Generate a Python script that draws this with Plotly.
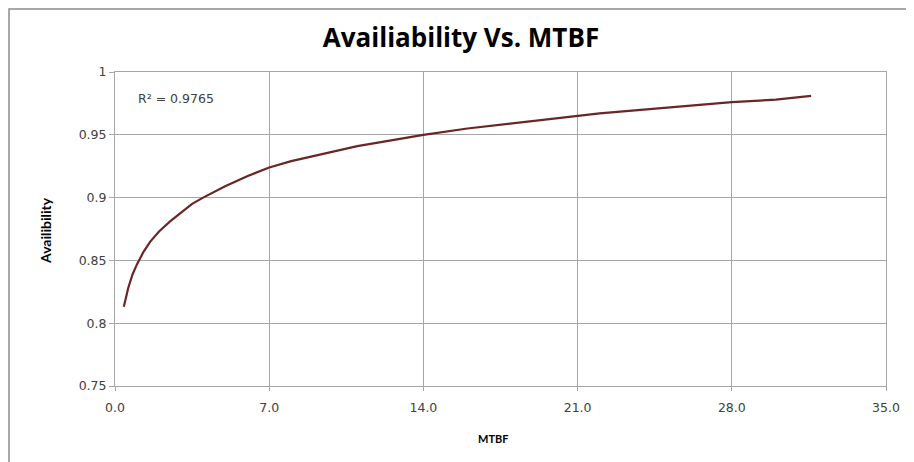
import plotly.graph_objects as go

# Values
mtbf = [0.4, 0.6, 0.8, 1.0, 1.3, 1.6, 2.0, 2.5, 3.0, 3.5, 4.0, 5.0, 6.0, 7.0,
        8.0, 9.0, 10.0, 11.0, 12.0, 13.0, 14.0, 16.0, 18.0, 20.0, 22.0, 24.0,
        26.0, 28.0, 30.0, 31.6]
availability = [0.813, 0.828, 0.839, 0.847, 0.857, 0.865, 0.873, 0.881, 0.888,
                0.895, 0.900, 0.909, 0.917, 0.924, 0.929, 0.933, 0.937, 0.941,
                0.944, 0.947, 0.950, 0.955, 0.959, 0.963, 0.967, 0.970, 0.973,
                0.976, 0.978, 0.981]
x_ticks = [0, 7, 14, 21, 28, 35]
y_ticks = [0.75, 0.8, 0.85, 0.9, 0.95, 1.0]
r2_text = "R\u00b2 = 0.9765"

# page has an 8px body margin; work in page pixels and compensate
OFF = 8
PAGE_W, PAGE_H = 914, 462
W, H = PAGE_W - OFF, PAGE_H - OFF
px_left, px_right, px_top, px_bottom = 115, 886, 72, 386   # plot area in page px
L = px_left - OFF
T = px_top - OFF
R = OFF + W - px_right
B = OFF + H - px_bottom
pw, ph = px_right - px_left, px_bottom - px_top


def paper_x(px):
    return (px - px_left) / pw


def paper_y(py):
    return (px_bottom - py) / ph


fig = go.Figure()
fig.add_trace(go.Scatter(
    x=mtbf, y=availability, mode="lines",
    line=dict(color="#6a2626", width=2.2),
    showlegend=False, hoverinfo="x+y"))

grid = "#a6a6a6"
tick_font = dict(family="DejaVu Sans", size=12.5, color="#404040")
fig.update_xaxes(
    range=[0, 35], tickvals=x_ticks, tickformat=".1f",
    showgrid=True, gridcolor=grid, gridwidth=1,
    showline=True, linecolor=grid, linewidth=1, mirror=True,
    ticks="outside", ticklen=4, tickcolor=grid, ticklabelstandoff=6,
    tickfont=tick_font, zeroline=False, fixedrange=True)
fig.update_yaxes(
    range=[0.75, 1.0], tickvals=y_ticks,
    showgrid=True, gridcolor=grid, gridwidth=1,
    showline=True, linecolor=grid, linewidth=1, mirror=True,
    ticks="outside", ticklen=5, tickcolor=grid,
    tickfont=tick_font, zeroline=False, fixedrange=True)

fig.add_annotation(x=0.95, y=0.979, xref="x", yref="y", text=r2_text,
                   showarrow=False, xanchor="left", yanchor="middle",
                   font=dict(family="DejaVu Sans", size=12.5, color="#404040"))
fig.add_annotation(x=paper_x(45), y=paper_y(231), xref="paper", yref="paper",
                   text="<b>Availibility</b>", textangle=-90, showarrow=False,
                   xanchor="center", yanchor="middle",
                   font=dict(family="Lato", size=14, color="#000000"))
fig.add_annotation(x=paper_x(493), y=paper_y(438), xref="paper", yref="paper",
                   text="<b>MTBF</b>", showarrow=False,
                   xanchor="center", yanchor="middle",
                   font=dict(family="Lato", size=11, color="#000000"))

# outer chart frame
fig.add_shape(type="rect", xref="paper", yref="paper",
              x0=paper_x(9), x1=paper_x(PAGE_W + 10),
              y0=paper_y(PAGE_H + 10), y1=paper_y(9),
              line=dict(color="#8c8c8c", width=1.5), layer="below")

fig.update_layout(
    width=W, height=H,
    margin=dict(l=L, r=R, t=T, b=B),
    paper_bgcolor="white", plot_bgcolor="white",
    title=dict(text="<b>Availiability Vs. MTBF</b>",
               x=(461 - OFF) / W, y=1 - (38 - OFF) / H,
               xanchor="center", yanchor="middle",
               font=dict(family="Open Sans", size=26, color="#000000")),
)

fig.write_html("out.html")
